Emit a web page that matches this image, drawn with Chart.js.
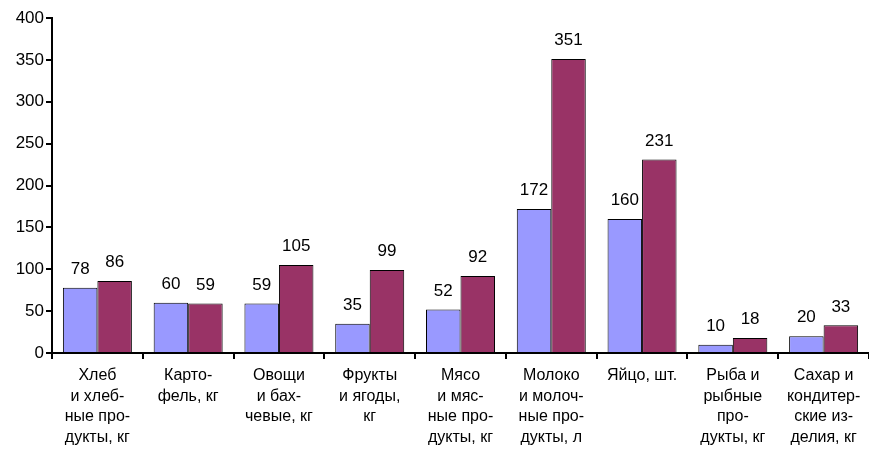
<!DOCTYPE html>
<html>
<head>
<meta charset="utf-8">
<script src="https://cdn.jsdelivr.net/npm/chart.js@4"></script>
<style>
  html, body { margin: 0; padding: 0; background: #fff; }
  #wrap { width: 869px; height: 449px; }
</style>
</head>
<body>
<div id="wrap"><canvas id="chart"></canvas></div>
<script>
// Категории (подписи по оси X, построчно)
const categories = [
  ['Хлеб', 'и хлеб-', 'ные про-', 'дукты, кг'],
  ['Карто-', 'фель, кг'],
  ['Овощи', 'и бах-', 'чевые, кг'],
  ['Фрукты', 'и ягоды,', 'кг'],
  ['Мясо', 'и мяс-', 'ные про-', 'дукты, кг'],
  ['Молоко', 'и молоч-', 'ные про-', 'дукты, л'],
  ['Яйцо, шт.'],
  ['Рыба и', 'рыбные', 'про-', 'дукты, кг'],
  ['Сахар и', 'кондитер-', 'ские из-', 'делия, кг']
]

const series1 = [78, 60, 59, 35, 52, 172, 160, 10, 20]
const series2 = [86, 59, 105, 99, 92, 351, 231, 18, 33]

const yTicks = [0, 50, 100, 150, 200, 250, 300, 350, 400]

const FONT = 'Liberation Sans, Arial, sans-serif'

// подписи значений над столбцами
const valueLabels = {
  id: 'valueLabels',
  afterDatasetsDraw(chart) {
    const ctx = chart.ctx
    ctx.save()
    ctx.font = '17px ' + FONT
    ctx.fillStyle = '#000'
    ctx.textAlign = 'center'
    ctx.textBaseline = 'bottom'
    chart.data.datasets.forEach((ds, i) => {
      chart.getDatasetMeta(i).data.forEach((bar, j) => {
        ctx.fillText(ds.data[j], bar.x, bar.y - 10)
      })
    })
    ctx.restore()
  }
}

new Chart(document.getElementById('chart'), {
  type: 'bar',
  data: {
    labels: categories,
    datasets: [
      {
        label: 'ряд 1',
        data: series1,
        backgroundColor: '#9999FF',
        borderColor: '#000',
        borderWidth: 1,
        borderSkipped: 'bottom'
      },
      {
        label: 'ряд 2',
        data: series2,
        backgroundColor: '#993366',
        borderColor: '#000',
        borderWidth: 1,
        borderSkipped: 'bottom'
      }
    ]
  },
  options: {
    responsive: true,
    maintainAspectRatio: false,
    animation: false,
    layout: { padding: { top: 18, right: 0, left: 0, bottom: 0 } },
    plugins: {
      legend: { display: false },
      tooltip: { enabled: false }
    },
    datasets: {
      bar: { categoryPercentage: 0.76, barPercentage: 1 }
    },
    scales: {
      x: {
        grid: { drawOnChartArea: false, color: '#000', tickLength: 6, lineWidth: 2 },
        border: { color: '#000', width: 2 },
        ticks: {
          color: '#000',
          font: { family: FONT, size: 16, lineHeight: 1.3 },
          maxRotation: 0,
          autoSkip: false,
          padding: 6
        },
        afterFit(scale) { scale.height = 96 }
      },
      y: {
        min: 0,
        max: 400,
        afterBuildTicks(scale) { scale.ticks = yTicks.map(v => ({ value: v })) },
        grid: { drawOnChartArea: false, color: '#000', tickLength: 6, lineWidth: 2 },
        border: { color: '#000', width: 2 },
        ticks: {
          color: '#000',
          font: { family: FONT, size: 17 },
          padding: 2
        },
        afterFit(scale) { scale.width = 52 }
      }
    }
  },
  plugins: [valueLabels]
})
</script>
</body>
</html>
